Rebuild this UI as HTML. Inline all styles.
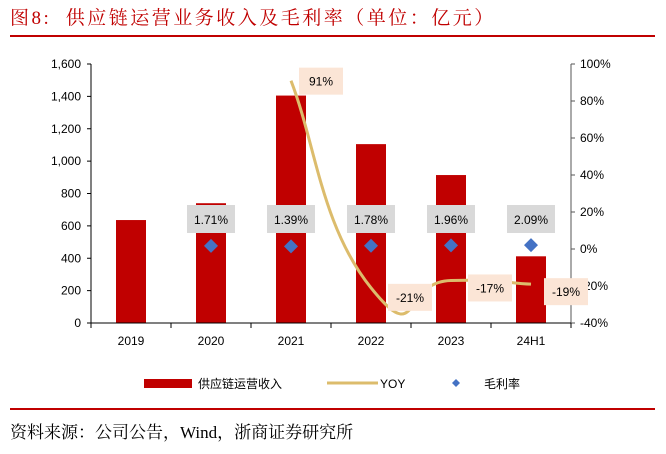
<!DOCTYPE html>
<html><head><meta charset="utf-8"><style>
body{margin:0;background:#fff;width:666px;height:449px;overflow:hidden;font-family:"Liberation Sans","Noto Sans CJK SC",sans-serif}
</style></head><body>
<svg id="c" width="666" height="449" xmlns="http://www.w3.org/2000/svg" style="font-family:'Liberation Sans','Noto Sans CJK SC',sans-serif">
<text x="10" y="24" font-size="19" fill="#c00000" letter-spacing="2.5" xml:space="preserve" style="font-family:'Liberation Serif','Noto Serif CJK SC',serif;white-space:pre">图8:  供应链运营业务收入及毛利率（单位：亿元）</text>
<rect x="10" y="35" width="645" height="2" fill="#c00000"/>
<rect x="10" y="408" width="645" height="2" fill="#c00000"/>
<text x="10" y="438" font-size="17" fill="#000" style="font-family:'Liberation Serif','Noto Serif CJK SC',serif">资料来源：公司公告，Wind，浙商证券研究所</text>
<g id="plot"></g>
</svg>
<script>
const categories=["2019","2020","2021","2022","2023","24H1"];
const revenue=[636,740,1405,1105,914,412];
const yoy=[null,null,91,-21,-17,-19];
const margin=[null,1.71,1.39,1.78,1.96,2.09];
const leftTicks=[0,200,400,600,800,1000,1200,1400,1600];
const rightTicks=[-40,-20,0,20,40,60,80,100];

const NS="http://www.w3.org/2000/svg";
const g=document.getElementById('plot');
const X0=91,X1=571,Y0=323,Y1=64;
const bw=(X1-X0)/categories.length;
const xc=i=>X0+bw*(i+0.5);
const yL=v=>Y0-(v/1600)*(Y0-Y1);
const yR=v=>Y0-((v+40)/140)*(Y0-Y1);
function el(t,a,txt){const e=document.createElementNS(NS,t);for(const k in a)e.setAttribute(k,a[k]);if(txt!=null)e.textContent=txt;g.appendChild(e);return e;}

revenue.forEach((v,i)=>{
 const b=el('rect',{x:xc(i)-15,y:yL(v),width:30,height:Y0-yL(v),fill:'#c00000'});
 
 
});
let a=el('line',{x1:X0,y1:Y1,x2:X0,y2:Y0,stroke:'#000','stroke-width':1});

a=el('line',{x1:X1,y1:Y1,x2:X1,y2:Y0,stroke:'#555','stroke-width':1});

a=el('line',{x1:X0,y1:Y0,x2:X1,y2:Y0,stroke:'#000','stroke-width':1});

leftTicks.forEach(v=>{
 el('line',{x1:X0-4,y1:yL(v),x2:X0,y2:yL(v),stroke:'#000'});
 const t=el('text',{x:X0-10,y:yL(v)+4,'font-size':12,'text-anchor':'end',fill:'#000'},v.toLocaleString('en-US'));
 
});
rightTicks.forEach(v=>{
 el('line',{x1:X1,y1:yR(v),x2:X1+4,y2:yR(v),stroke:'#555'});
 const t=el('text',{x:X1+9,y:yR(v)+4,'font-size':12,fill:'#000'},v+'%');
 
});
categories.forEach((c,i)=>{
 el('line',{x1:X0+bw*i,y1:Y0,x2:X0+bw*i,y2:Y0+5,stroke:'#000'});
 const t=el('text',{x:xc(i),y:Y0+22,'font-size':12,'text-anchor':'middle',fill:'#000'},c);
 
});
el('line',{x1:X1,y1:Y0,x2:X1,y2:Y0+5,stroke:'#000'});
const pts=[];yoy.forEach((v,i)=>{if(v!=null)pts.push([xc(i),yR(v)]);});
let d='M'+pts[0][0]+','+pts[0][1];
const k=3.2;
for(let i=0;i<pts.length-1;i++){
 const p0=pts[Math.max(0,i-1)],p1=pts[i],p2=pts[i+1],p3=pts[Math.min(pts.length-1,i+2)];
 const c1=[p1[0]+(p2[0]-p0[0])/k,p1[1]+(p2[1]-p0[1])/k];
 const c2=[p2[0]-(p3[0]-p1[0])/k,p2[1]-(p3[1]-p1[1])/k];
 d+=' C'+c1+' '+c2+' '+p2;
}
const ln=el('path',{d:d,fill:'none',stroke:'#dcbc6c','stroke-width':3});

const offs={2:[30,0],3:[39,9],4:[39,7],5:[35,7]};
yoy.forEach((v,i)=>{if(v==null)return;
 const x=xc(i)+offs[i][0], y=yR(v)+offs[i][1];
 const r=el('rect',{x:x-22,y:y-13,width:44,height:27,fill:'#fbe5d6'});
 
 const t=el('text',{x:x,y:y+5,'font-size':12,'text-anchor':'middle',fill:'#000'},v+'%');
 
});
margin.forEach((v,i)=>{if(v==null)return;
 const x=xc(i),y=yR(v);
 const p=el('path',{d:`M${x},${y-7}L${x+7},${y}L${x},${y+7}L${x-7},${y}Z`,fill:'#4472c4'});
 
 const r=el('rect',{x:x-24,y:205,width:48,height:28,fill:'#d9d9d9'});
 
 const t=el('text',{x:x,y:224,'font-size':12,'text-anchor':'middle',fill:'#000'},v.toFixed(2)+'%');
 
});
let l=el('rect',{x:144,y:379,width:48,height:9,fill:'#c00000'});
l=el('text',{x:198,y:388,'font-size':12,fill:'#000'},'供应链运营收入');
l=el('line',{x1:327,y1:383,x2:378,y2:383,stroke:'#dcbc6c','stroke-width':3});
l=el('text',{x:380,y:388,'font-size':12,fill:'#000'},'YOY');
l=el('path',{d:'M456,379L460,383L456,387L452,383Z',fill:'#4472c4'});
l=el('text',{x:484,y:388,'font-size':12,fill:'#000'},'毛利率');
</script>
</body></html>
